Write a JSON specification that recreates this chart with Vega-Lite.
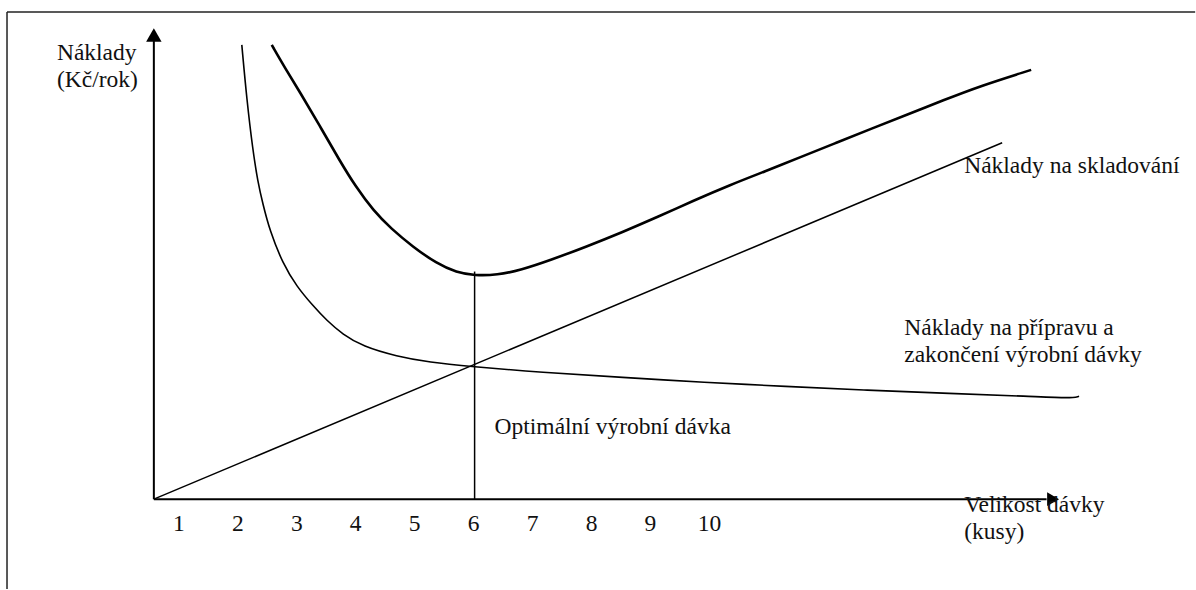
{
  "$schema": "https://vega.github.io/schema/vega-lite/v6.json",
  "width": 1196,
  "height": 590,
  "padding": 0,
  "autosize": {"type": "fit", "contains": "padding"},
  "background": "white",
  "config": {"view": {"stroke": null}},
  "datasets": {
    "frame": [
      {"x1": -1.915, "x2": -1.915, "y1": 97.6, "y2": -18},
      {"x1": -1.915, "x2": 18.24, "y1": 97.6, "y2": 97.6}
    ],
    "axes": [
      {"x1": 0.576, "x2": 0.576, "y1": 0, "y2": 92},
      {"x1": 0.576, "x2": 15.72, "y1": 0, "y2": 0}
    ],
    "arrowUp": [{"v": 0.576, "c": 93.0}],
    "arrowRight": [{"v": 15.83, "c": 0}],
    "optimum": [{"x1": 6.017, "x2": 6.017, "y1": 45.6, "y2": 0}],
    "storage": [{"x1": 0.576, "x2": 14.966, "y1": 0, "y2": 71.4}],
    "total": [
      {"v": 2.576, "c": 91.0}, {"v": 2.8, "c": 86.4}, {"v": 3.051, "c": 81.6},
      {"v": 3.390, "c": 74.8}, {"v": 3.729, "c": 67.8}, {"v": 4.0, "c": 62.6},
      {"v": 4.3, "c": 57.8}, {"v": 4.6, "c": 54.2}, {"v": 4.966, "c": 50.6},
      {"v": 5.373, "c": 47.2}, {"v": 5.712, "c": 45.4}, {"v": 6.017, "c": 44.8},
      {"v": 6.4, "c": 44.9}, {"v": 6.8, "c": 45.9}, {"v": 7.305, "c": 47.9},
      {"v": 7.915, "c": 50.6}, {"v": 8.525, "c": 53.5}, {"v": 9.136, "c": 56.6},
      {"v": 9.729, "c": 59.8}, {"v": 10.339, "c": 62.9}, {"v": 10.949, "c": 65.7},
      {"v": 11.542, "c": 68.5}, {"v": 12.153, "c": 71.4}, {"v": 12.763, "c": 74.3},
      {"v": 13.373, "c": 77.1}, {"v": 13.966, "c": 79.9}, {"v": 14.576, "c": 82.7},
      {"v": 15.458, "c": 86.0}
    ],
    "setup": [
      {"v": 2.068, "c": 91.0}, {"v": 2.153, "c": 80.0}, {"v": 2.254, "c": 70.0},
      {"v": 2.339, "c": 63.6}, {"v": 2.424, "c": 59.2}, {"v": 2.542, "c": 53.8},
      {"v": 2.763, "c": 47.2}, {"v": 3.000, "c": 42.6}, {"v": 3.271, "c": 38.8},
      {"v": 3.508, "c": 35.8}, {"v": 3.780, "c": 33.0}, {"v": 4.119, "c": 30.6},
      {"v": 4.695, "c": 28.6}, {"v": 5.254, "c": 27.4}, {"v": 5.932, "c": 26.6},
      {"v": 7.153, "c": 25.4}, {"v": 8.525, "c": 24.4}, {"v": 9.915, "c": 23.4},
      {"v": 11.288, "c": 22.6}, {"v": 12.678, "c": 21.8}, {"v": 14.068, "c": 21.2},
      {"v": 15.441, "c": 20.6}, {"v": 16.136, "c": 20.2}, {"v": 16.271, "c": 20.6}
    ],
    "labels": [
      {"text": "Náklady", "v": -1.068, "c": 88.0},
      {"text": "(Kč/rok)", "v": -1.068, "c": 82.6},
      {"text": "Náklady na skladování", "v": 14.322, "c": 65.4},
      {"text": "Náklady na přípravu a", "v": 13.305, "c": 32.8},
      {"text": "zakončení výrobní dávky", "v": 13.305, "c": 27.4},
      {"text": "Optimální výrobní dávka", "v": 6.356, "c": 13.0},
      {"text": "Velikost dávky", "v": 14.322, "c": -2.6},
      {"text": "(kusy)", "v": 14.322, "c": -8.0}
    ],
    "ticks": [
      {"n": 1, "c": -6.4}, {"n": 2, "c": -6.4}, {"n": 3, "c": -6.4}, {"n": 4, "c": -6.4},
      {"n": 5, "c": -6.4}, {"n": 6, "c": -6.4}, {"n": 7, "c": -6.4}, {"n": 8, "c": -6.4},
      {"n": 9, "c": -6.4}, {"n": 10, "c": -6.4}
    ]
  },
  "resolve": {"scale": {"x": "shared", "y": "shared"}},
  "layer": [
    {
      "data": {"name": "frame"},
      "mark": {"type": "rule", "color": "#222222", "strokeWidth": 1.5},
      "encoding": {
        "x": {"field": "x1", "type": "quantitative", "scale": {"domain": [-2.0339, 18.2373], "nice": false, "zero": false}, "axis": null},
        "x2": {"field": "x2"},
        "y": {"field": "y1", "type": "quantitative", "scale": {"domain": [-18, 100], "nice": false, "zero": false}, "axis": null},
        "y2": {"field": "y2"}
      }
    },
    {
      "data": {"name": "axes"},
      "mark": {"type": "rule", "color": "black", "strokeWidth": 2},
      "encoding": {
        "x": {"field": "x1", "type": "quantitative"},
        "x2": {"field": "x2"},
        "y": {"field": "y1", "type": "quantitative"},
        "y2": {"field": "y2"}
      }
    },
    {
      "data": {"name": "arrowUp"},
      "mark": {"type": "point", "shape": "triangle-up", "filled": true, "color": "black", "size": 240, "opacity": 1},
      "encoding": {
        "x": {"field": "v", "type": "quantitative"},
        "y": {"field": "c", "type": "quantitative"}
      }
    },
    {
      "data": {"name": "arrowRight"},
      "mark": {"type": "point", "shape": "triangle-right", "filled": true, "color": "black", "size": 190, "opacity": 1},
      "encoding": {
        "x": {"field": "v", "type": "quantitative"},
        "y": {"field": "c", "type": "quantitative"}
      }
    },
    {
      "data": {"name": "optimum"},
      "mark": {"type": "rule", "color": "black", "strokeWidth": 1.5},
      "encoding": {
        "x": {"field": "x1", "type": "quantitative"},
        "x2": {"field": "x2"},
        "y": {"field": "y1", "type": "quantitative"},
        "y2": {"field": "y2"}
      }
    },
    {
      "data": {"name": "storage"},
      "mark": {"type": "rule", "color": "black", "strokeWidth": 1.5},
      "encoding": {
        "x": {"field": "x1", "type": "quantitative"},
        "x2": {"field": "x2"},
        "y": {"field": "y1", "type": "quantitative"},
        "y2": {"field": "y2"}
      }
    },
    {
      "data": {"name": "total"},
      "mark": {"type": "line", "color": "black", "strokeWidth": 2.6, "interpolate": "basis"},
      "encoding": {
        "x": {"field": "v", "type": "quantitative"},
        "y": {"field": "c", "type": "quantitative"}
      }
    },
    {
      "data": {"name": "setup"},
      "mark": {"type": "line", "color": "black", "strokeWidth": 1.6, "interpolate": "basis"},
      "encoding": {
        "x": {"field": "v", "type": "quantitative"},
        "y": {"field": "c", "type": "quantitative"}
      }
    },
    {
      "data": {"name": "labels"},
      "mark": {"type": "text", "align": "left", "baseline": "alphabetic", "font": "Liberation Serif, Times New Roman, serif", "fontSize": 23.5, "color": "#111111"},
      "encoding": {
        "x": {"field": "v", "type": "quantitative"},
        "y": {"field": "c", "type": "quantitative"},
        "text": {"field": "text"}
      }
    },
    {
      "data": {"name": "ticks"},
      "mark": {"type": "text", "align": "center", "baseline": "alphabetic", "font": "Liberation Serif, Times New Roman, serif", "fontSize": 23.5, "color": "#111111"},
      "encoding": {
        "x": {"field": "n", "type": "quantitative"},
        "y": {"field": "c", "type": "quantitative"},
        "text": {"field": "n", "type": "quantitative"}
      }
    }
  ]
}
